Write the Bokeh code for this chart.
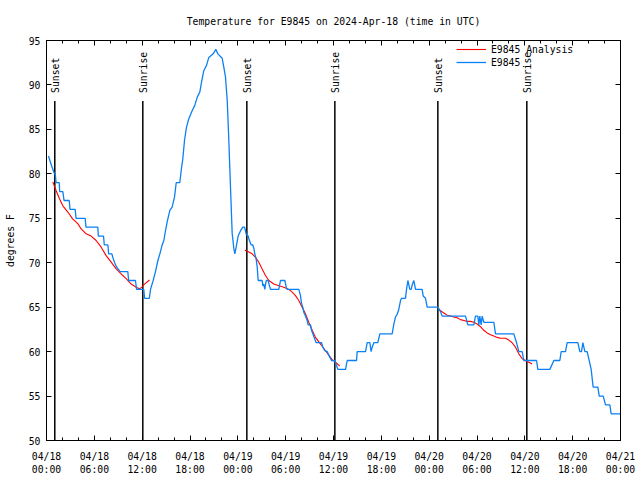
import math
from bokeh.plotting import figure
from bokeh.models import Range1d, FixedTicker, LinearAxis, Legend, LegendItem
from bokeh.core.properties import value
from bokeh.embed import file_html
from bokeh.resources import INLINE

# ---------------- data (hours since 2024-04-18 00:00 UTC) ----------------
title_text = "Temperature for E9845 on 2024-Apr-18 (time in UTC)"

tick_hours = [0, 6, 12, 18, 24, 30, 36, 42, 48, 54, 60, 66, 72]
tick_labels = ["04/18\n00:00", "04/18\n06:00", "04/18\n12:00", "04/18\n18:00",
               "04/19\n00:00", "04/19\n06:00", "04/19\n12:00", "04/19\n18:00",
               "04/20\n00:00", "04/20\n06:00", "04/20\n12:00", "04/20\n18:00",
               "04/21\n00:00"]
minor_hours = list(range(0, 73, 2))
y_ticks = [50, 55, 60, 65, 70, 75, 80, 85, 90, 95]

event_hours = [1.04, 12.08, 25.13, 36.17, 49.09, 60.25]
event_labels = ["Sunset", "Sunrise", "Sunset", "Sunrise", "Sunset", "Sunrise"]

obs_hours = [0.25, 0.6, 1.0, 1.1, 1.2, 1.6, 1.65, 2.05, 2.2, 2.85, 2.95, 3.6, 3.7, 4.85, 4.95,
             6.44, 6.5, 7.15, 7.25, 7.7, 7.8, 8.2, 8.35, 8.55, 8.8, 9.25, 10.2, 10.3, 11.16,
             11.3, 12.2, 12.3, 12.9,
             13.05, 13.38, 13.67, 13.97, 14.22, 14.51, 14.72, 14.93, 15.14, 15.47, 15.76,
             16.06, 16.27, 16.72, 16.9, 17.1, 17.31, 17.56, 17.85, 18.27, 18.6, 18.9, 19.23,
             19.44, 19.73, 20.07, 20.36, 20.91, 21.24, 21.49, 22.04, 22.24, 22.45, 22.67,
             22.87, 23.08, 23.29, 23.5, 23.62, 23.79, 24.04, 24.34, 24.63, 24.84, 24.96,
             25.05, 25.3, 25.38, 25.67, 25.88, 26.01, 26.13, 26.3, 26.43, 26.55, 27.05,
             27.14, 27.26, 27.38, 27.56, 27.8, 27.97, 28.1, 29.14, 29.35, 29.9, 30.07, 30.19,
             31.65, 31.86, 31.99, 32.15, 32.28, 32.49, 32.7, 32.82, 33.12, 33.24, 33.41,
             33.66, 33.83, 34.5, 34.66, 34.91, 35.21, 35.41, 35.75, 36.17, 36.38, 36.55,
             37.51, 37.72, 38.89, 38.97, 40.02, 40.22, 40.56, 40.72, 40.85, 41.06, 41.56,
             41.81, 43.36, 43.57, 43.78, 43.99, 44.2, 44.41, 44.53, 45.03, 45.16, 45.33,
             45.58, 45.75, 45.87, 46.08, 46.29, 46.41, 47.12, 47.25, 47.54, 47.75, 49.09,
             49.42, 49.63, 52.56, 52.85, 53.6, 53.81, 54.1, 54.23, 54.35, 54.52, 54.65,
             54.85, 56.11, 56.32, 58.62, 58.96, 59.25, 59.67, 59.87, 61.47, 61.63, 63.14,
             63.64, 64.39, 64.56, 65.1, 65.31, 66.65, 66.9, 67.11, 67.28, 67.53, 67.82,
             68.32, 68.57, 69.16, 69.33, 69.83, 70.12, 70.66, 70.83, 72.0]
obs_temps = [82, 81, 80, 80, 79, 79, 78, 78, 77, 77, 76, 76, 75, 75, 74,
             74, 73, 73, 72, 72, 71, 71, 70.5, 70, 69.5, 69, 69, 68, 68,
             67, 67, 66, 66,
             67, 68, 69, 70.25, 71, 72, 72.5, 73.6, 74.6, 75.9, 76.25,
             77.4, 79, 79, 80.4, 81.7, 83.75, 85.25, 86.2, 87.1, 87.7, 88.6, 89.2,
             90.3, 91.6, 92.2, 93.1, 93.5, 94, 93.5, 93, 92, 90.9, 88.25,
             83.75, 78.5, 73.3, 71.6, 71, 71.75, 73, 73.6, 74, 74, 73.6,
             73.2, 73, 72.7, 72, 72, 71.6, 71, 70.4, 69.5, 68, 68,
             67.4, 67.6, 67, 68, 68, 67.4, 67, 67, 68, 68, 67.25, 67,
             67, 66.3, 65.4, 65, 64.4, 64, 63.5, 63, 63, 62.4, 62,
             61.4, 61, 61, 60.5, 60.1, 60, 59.6, 59, 59, 58.4, 58,
             58, 59, 59, 60, 60, 61, 61, 60, 60.5, 61, 61,
             62, 62, 63.1, 63.9, 64.2, 64.8, 65.75, 66, 66, 67, 68,
             67, 67, 67.5, 68, 67, 67, 67, 66.25, 66, 65, 65,
             64.5, 64, 64, 63, 63, 64, 64, 63, 64, 63, 64,
             63.3, 63.3, 62, 62, 61, 60, 60, 59, 59, 58, 58,
             59, 59, 60, 60, 61, 61, 60, 60, 61, 60, 60,
             58, 56, 56, 55, 55, 54, 54, 53, 53]

an1_hours = [0.79, 1.21, 1.63, 2.05, 2.68, 3.3, 3.93, 4.35, 4.97, 5.6, 6.23, 6.86, 7.48, 8.11,
             8.74, 9.36, 9.99, 10.62, 11.25, 11.67, 11.96, 12.29, 12.92]
an1_temps = [79.1, 78.1, 77.2, 76.4, 75.7, 74.9, 74.4, 73.8, 73.25, 73.0, 72.5, 71.75, 70.8,
             70.06, 69.3, 68.75, 68.2, 67.6, 67.25, 67.06, 67.25, 67.6, 68.06]
an2_hours = [24.88, 25.38, 25.8, 26.22, 26.63, 27.05, 27.47, 27.89, 28.52, 29.14, 29.77, 30.4,
             30.82, 31.23, 31.65, 32.07, 32.49, 32.9, 33.33, 33.74, 34.16, 34.58, 35.0, 35.41,
             35.83, 36.25, 36.79]
an2_temps = [71.4, 71.2, 71.0, 70.6, 70.06, 69.3, 68.56, 68.0, 67.6, 67.4, 67.25, 67.0, 66.7,
             66.3, 65.75, 65.0, 64.25, 63.3, 62.4, 61.6, 61.1, 60.6, 60.1, 59.6, 59.1, 58.8,
             58.36]
an3_hours = [49.09, 49.42, 49.84, 50.26, 50.68, 51.09, 51.51, 51.93, 52.35, 52.77, 53.19, 53.6,
             54.02, 54.44, 54.85, 55.27, 55.69, 56.11, 56.53, 56.95, 57.58, 57.99, 58.41,
             58.83, 59.25, 59.67, 60.08, 60.5, 60.92]
an3_temps = [64.9, 64.6, 64.35, 64.1, 64.0, 63.9, 63.8, 63.6, 63.5, 63.4, 63.4, 63.3, 63.1,
             62.8, 62.4, 62.1, 61.9, 61.75, 61.6, 61.5, 61.5, 61.3, 61.0, 60.5, 59.75, 59.2,
             59.0, 58.8, 58.6]

# ---------------- figure ----------------
FONT = "DejaVu Sans Mono"
FS = "9.75px"

p = figure(width=640, height=480, output_backend="svg", toolbar_location=None,
           x_range=Range1d(0, 72), y_range=Range1d(50, 95),
           min_border_left=46, min_border_right=20, min_border_top=40, min_border_bottom=40)
p.background_fill_color = "white"
p.border_fill_color = "white"
p.outline_line_color = "black"
p.outline_line_width = 1
p.xgrid.visible = False
p.ygrid.visible = False

p.title.text = title_text
p.title.align = "center"
p.title.text_font = FONT
p.title.text_font_size = FS
p.title.text_font_style = "normal"
p.title.text_color = "black"
p.title.standoff = 27

xt = FixedTicker(ticks=tick_hours, minor_ticks=minor_hours)
yt = FixedTicker(ticks=y_ticks, minor_ticks=[])

xa = p.xaxis[0]
xa.ticker = xt
xa.major_label_overrides = {h: lab for h, lab in zip(tick_hours, tick_labels)}
ya = p.yaxis[0]
ya.ticker = yt
ya.axis_label = "degrees F"
ya.axis_label_text_font_style = "normal"
ya.axis_label_text_font = FONT
ya.axis_label_text_font_size = FS
ya.axis_label_text_color = "black"
ya.axis_label_standoff = 10

top = LinearAxis(ticker=xt)
right = LinearAxis(ticker=yt)
p.add_layout(top, "above")
p.add_layout(right, "right")

for ax in (xa, ya, top, right):
    ax.major_tick_in = 5
    ax.major_tick_out = 0
    ax.minor_tick_in = 3
    ax.minor_tick_out = 0
    ax.axis_line_color = "black"
    ax.major_tick_line_color = "black"
    ax.minor_tick_line_color = "black"
    ax.major_label_text_font = FONT
    ax.major_label_text_font_size = FS
    ax.major_label_text_color = "black"
    ax.major_label_standoff = 6
xa.major_label_standoff = 10
for ax in (top, right):
    ax.major_label_text_color = None
    ax.major_label_standoff = 0
ya.minor_tick_line_color = None
right.minor_tick_line_color = None

# sunrise / sunset markers
p.segment(x0=event_hours, y0=[50] * len(event_hours), x1=event_hours,
          y1=[88.2] * len(event_hours), line_color="black", line_width=1.5)
p.text(x=event_hours, y=[89.1] * len(event_hours), text=event_labels, angle=math.pi / 2,
       text_align="left", text_baseline="middle", x_offset=1,
       text_font=value(FONT), text_font_size=value(FS), text_color="black")

# series
r_an = p.line(an1_hours, an1_temps, line_color="#ff0000", line_width=1.1)
p.line(an2_hours, an2_temps, line_color="#ff0000", line_width=1.1)
p.line(an3_hours, an3_temps, line_color="#ff0000", line_width=1.1)
r_obs = p.line(obs_hours, obs_temps, line_color="#0a80f5", line_width=1.3)

legend = Legend(items=[LegendItem(label="E9845 Analysis", renderers=[r_an]),
                       LegendItem(label="E9845", renderers=[r_obs])],
                location=(410, 372))
legend.background_fill_alpha = 0
legend.border_line_color = None
legend.label_text_font = FONT
legend.label_text_font_size = FS
legend.label_text_color = "black"
legend.glyph_width = 30
legend.glyph_height = 12
legend.label_height = 12
legend.label_standoff = 5
legend.spacing = 1
legend.padding = 2
legend.margin = 0
p.add_layout(legend)

open("out.html", "w").write(file_html(p, INLINE))
